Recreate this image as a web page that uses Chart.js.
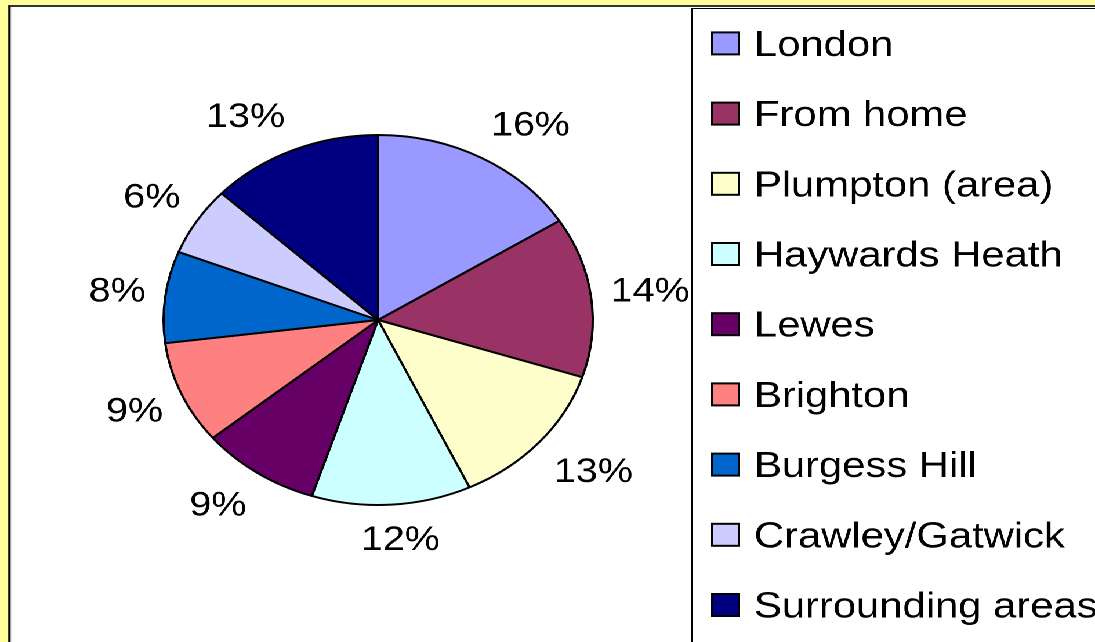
<!DOCTYPE html>
<html>
<head>
<meta charset="utf-8">
<script src="https://cdn.jsdelivr.net/npm/chart.js@4/dist/chart.umd.min.js"></script>
<style>
  html, body { margin: 0; padding: 0; background: #ffff99; overflow: hidden; width: 1095px; height: 642px; }
  /* the reference is stretched sideways, so draw narrow and stretch it */
  #wrap { position: absolute; left: 0; top: 0; width: 944px; height: 642px; transform: scaleX(1.16); transform-origin: 0 0; }
  #marco { position: absolute; left: 7px; top: 5px; right: -20px; bottom: -20px; background: #fff;
           border-left: 2px solid #000; border-top: 2px solid #333; }
  #caja { position: absolute; left: 0; top: 0; width: 944px; height: 642px; }
</style>
</head>
<body>
<div id="wrap">
  <div id="marco"></div>
  <div id="caja"><canvas id="graficoTarta"></canvas></div>
</div>
<script>
// Datos del gráfico
const categorias = ["London", "From home", "Plumpton (area)", "Haywards Heath", "Lewes",
                    "Brighton", "Burgess Hill", "Crawley/Gatwick", "Surrounding areas"];
const valores = [16, 14, 13, 12, 9, 9, 8, 6, 13];
const colores = ["#9999ff", "#993366", "#ffffcc", "#ccffff", "#660066",
                 "#ff8080", "#0066cc", "#ccccff", "#000080"];

const fuente = '"Liberation Sans", Arial, sans-serif';

// Etiquetas de porcentaje fuera de cada porción
const etiquetasPorcentaje = {
    id: "etiquetasPorcentaje",
    afterDatasetsDraw(chart) {
        const ctx = chart.ctx;
        const meta = chart.getDatasetMeta(0);
        const total = valores.reduce((a, b) => a + b, 0);
        ctx.save();
        ctx.font = "34px " + fuente;
        ctx.fillStyle = "#000";
        ctx.textAlign = "center";
        ctx.textBaseline = "middle";
        meta.data.forEach((arco, i) => {
            const p = arco.getProps(["x", "y", "startAngle", "endAngle", "outerRadius"], true);
            const medio = (p.startAngle + p.endAngle) / 2;
            const dx = Math.cos(medio), dy = Math.sin(medio);
            const texto = Math.round(valores[i] / total * 100) + "%";
            const w = ctx.measureText(texto).width;
            const h = 36;
            const R = p.outerRadius + 17;
            const fx = Math.max(-1, Math.min(1, dx * 3));
            const fy = Math.max(-1, Math.min(1, dy * 1.5));
            const x = p.x + dx * R + fx * w / 2;
            const y = p.y + dy * R + fy * h / 2;
            ctx.fillText(texto, x, y + 1);
        });
        ctx.restore();
    }
};

// Leyenda con recuadro, al estilo de Excel
const leyendaCaja = {
    id: "leyendaCaja",
    afterDraw(chart) {
        const ctx = chart.ctx;
        ctx.save();
        ctx.strokeStyle = "#000";
        ctx.lineWidth = 1;
        ctx.strokeRect(596.5, 8.5, 400, 700);
        ctx.font = "36px " + fuente;
        ctx.textAlign = "left";
        ctx.textBaseline = "alphabetic";
        categorias.forEach((nombre, i) => {
            const cy = 43.4 + i * 70.2;
            ctx.fillStyle = colores[i];
            ctx.fillRect(614, cy - 11, 23, 22);
            ctx.lineWidth = 2;
            ctx.strokeStyle = "#000";
            ctx.strokeRect(614, cy - 11, 23, 22);
            ctx.fillStyle = "#000";
            ctx.fillText(nombre, 650, cy + 12.5);
        });
        ctx.restore();
    }
};

document.addEventListener("DOMContentLoaded", function () {
    const ctx = document.getElementById("graficoTarta").getContext("2d");
    new Chart(ctx, {
        type: "pie",
        data: {
            labels: categorias,
            datasets: [{
                data: valores,
                backgroundColor: colores,
                borderColor: "#000",
                borderWidth: 2,
            }],
        },
        options: {
            responsive: true,
            maintainAspectRatio: false,
            animation: false,
            devicePixelRatio: 2,
            layout: { padding: { left: 140, right: 432, top: 134, bottom: 136 } },
            plugins: {
                legend: { display: false },
                tooltip: { enabled: false },
            },
        },
        plugins: [etiquetasPorcentaje, leyendaCaja],
    });
});
</script>
</body>
</html>
